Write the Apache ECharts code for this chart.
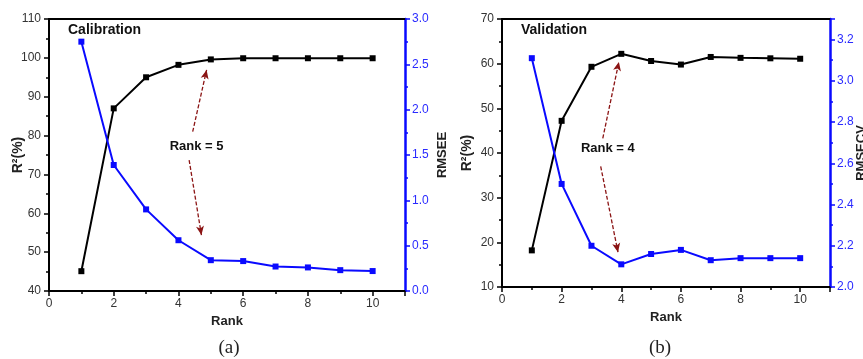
<!DOCTYPE html>
<html>
<head>
<meta charset="utf-8">
<script src="https://cdn.jsdelivr.net/npm/echarts@6/dist/echarts.min.js"></script>
<style>
  html, body { margin: 0; padding: 0; background: #fff; }
  #chart { width: 863px; height: 359px; }
</style>
</head>
<body>
<div id="chart"></div>
<script>
// data
const ranks = [1, 2, 3, 4, 5, 6, 7, 8, 9, 10];
const calR2 = [45.1, 87.0, 95.0, 98.2, 99.6, 99.9, 99.9, 99.9, 99.9, 99.9];
const calRMSEE = [2.75, 1.39, 0.90, 0.56, 0.34, 0.33, 0.27, 0.26, 0.23, 0.22];
const valR2 = [18.2, 47.2, 59.3, 62.2, 60.6, 59.8, 61.5, 61.3, 61.2, 61.1];
const valRMSECV = [3.11, 2.50, 2.20, 2.11, 2.16, 2.18, 2.13, 2.14, 2.14, 2.14];

// annotations (data units)
const calArrows = [
  [[4.44, 81.0], [4.87, 96.9]],
  [[4.33, 73.7], [4.71, 54.4]]
];
const calNote = { text: 'Rank = 5', at: [4.56, 77.1] };
const valArrows = [
  [[3.38, 43.3], [3.92, 60.4]],
  [[3.31, 37.0], [3.89, 17.8]]
];
const valNote = { text: 'Rank = 4', at: [3.55, 41.0] };

const FONT = 'Liberation Sans, Arial, sans-serif';
const BLUE = '#0a0aff';
const ARROW = '#8b1414';

const pairs = (ys) => ranks.map((r, i) => [r, ys[i]]);

const xAxisFor = (grid) => ({
  gridIndex: grid,
  type: 'value',
  min: 0,
  max: 11,
  interval: 2,
  name: 'Rank',
  nameLocation: 'middle',
  nameGap: grid === 0 ? 13 : 18,
  nameTextStyle: { fontFamily: FONT, fontWeight: 'bold', fontSize: 13, color: '#222' },
  axisLine: { onZero: false, lineStyle: { color: '#000', width: 2 } },
  axisTick: { length: 5, lineStyle: { color: '#000', width: 1.5 } },
  minorTick: { show: true, splitNumber: 2, length: 3, lineStyle: { color: '#000', width: 1.5 } },
  axisLabel: { showMaxLabel: false, fontFamily: FONT, fontSize: 12, color: '#333', margin: 7 },
  splitLine: { show: false }
});

const topFrame = (grid) => ({
  gridIndex: grid,
  type: 'value',
  position: 'top',
  min: 0,
  max: 11,
  axisLine: { onZero: false, lineStyle: { color: '#000', width: 2 } },
  axisTick: { show: false },
  axisLabel: { show: false },
  splitLine: { show: false }
});

const leftAxis = (grid, min, max, gap) => ({
  gridIndex: grid,
  type: 'value',
  position: 'left',
  min, max, interval: 10,
  name: 'R²(%)',
  nameLocation: 'middle',
  nameRotate: 90,
  nameGap: gap,
  nameMoveOverlap: false,
  nameTextStyle: { fontFamily: FONT, fontWeight: 'bold', fontSize: 14, color: '#222' },
  axisLine: { show: true, onZero: false, lineStyle: { color: '#000', width: 2 } },
  axisTick: { length: 5, lineStyle: { color: '#000', width: 1.5 } },
  minorTick: { show: true, splitNumber: 2, length: 3, lineStyle: { color: '#000', width: 1.5 } },
  axisLabel: { fontFamily: FONT, fontSize: 12, color: '#333', margin: 8 },
  splitLine: { show: false }
});

const rightAxis = (grid, name, min, max, interval, gap) => ({
  gridIndex: grid,
  type: 'value',
  position: 'right',
  min, max, interval,
  name,
  nameLocation: 'middle',
  nameRotate: 90,
  nameGap: gap,
  nameMoveOverlap: false,
  nameTextStyle: { fontFamily: FONT, fontWeight: 'bold', fontSize: 13, color: '#222' },
  axisLine: { show: true, onZero: false, lineStyle: { color: BLUE, width: 2.5 } },
  axisTick: { length: 5, lineStyle: { color: BLUE, width: 1.5 } },
  minorTick: { show: true, splitNumber: 2, length: 3, lineStyle: { color: BLUE, width: 1.5 } },
  axisLabel: {
    showMaxLabel: max === 3,
    fontFamily: FONT, fontSize: 12, color: '#2a2aff', margin: 7,
    formatter: (v) => v.toFixed(1)
  },
  splitLine: { show: false }
});

const lineSeries = (xi, yi, ys, color, extra) => Object.assign({
  type: 'line',
  xAxisIndex: xi,
  yAxisIndex: yi,
  data: pairs(ys),
  symbol: 'rect',
  symbolSize: 6,
  lineStyle: { color, width: 2 },
  itemStyle: { color },
  z: 3
}, extra || {});

const arrowsMark = (arrows) => ({
  silent: true,
  symbol: ['none', 'arrow'],
  symbolSize: [6, 9],
  label: { show: false },
  lineStyle: { color: ARROW, type: [4, 2], width: 1.3 },
  data: arrows.map(([a, b]) => [{ coord: a }, { coord: b }])
});

const noteMark = (note) => ({
  silent: true,
  symbol: 'circle',
  symbolSize: 1,
  itemStyle: { color: 'rgba(0,0,0,0)' },
  label: {
    show: true, position: 'inside', formatter: note.text,
    fontFamily: FONT, fontWeight: 'bold', fontSize: 13, color: '#111'
  },
  data: [{ coord: note.at }]
});

const chart = echarts.init(document.getElementById('chart'));
chart.setOption({
  animation: false,
  backgroundColor: '#fff',
  grid: [
    { left: 49, top: 19, width: 356, height: 272, outerBoundsMode: 'none' },
    { left: 502, top: 19, width: 328, height: 268, outerBoundsMode: 'none' }
  ],
  xAxis: [xAxisFor(0), topFrame(0), xAxisFor(1), topFrame(1)],
  yAxis: [
    leftAxis(0, 40, 110, 24),
    rightAxis(0, 'RMSEE', 0, 3, 0.5, 31),
    leftAxis(1, 10, 70, 28),
    rightAxis(1, 'RMSECV', 2.0, 3.3, 0.2, 25)
  ],
  graphic: [
    { type: 'text', left: 68, top: 23, style: { text: 'Calibration', font: 'bold 14px ' + FONT, fill: '#111' } },
    { type: 'text', left: 521, top: 23, style: { text: 'Validation', font: 'bold 14px ' + FONT, fill: '#111' } },
    { type: 'text', x: 229, y: 348, style: { text: '(a)', font: '19px "Liberation Serif", "DejaVu Serif", serif', fill: '#222', align: 'center', verticalAlign: 'middle' } },
    { type: 'text', x: 660, y: 348, style: { text: '(b)', font: '19px "Liberation Serif", "DejaVu Serif", serif', fill: '#222', align: 'center', verticalAlign: 'middle' } }
  ],
  series: [
    lineSeries(0, 0, calR2, '#000', { markLine: arrowsMark(calArrows), markPoint: noteMark(calNote) }),
    lineSeries(0, 1, calRMSEE, BLUE),
    lineSeries(2, 2, valR2, '#000', { markLine: arrowsMark(valArrows), markPoint: noteMark(valNote) }),
    lineSeries(2, 3, valRMSECV, BLUE)
  ]
});
</script>
</body>
</html>
